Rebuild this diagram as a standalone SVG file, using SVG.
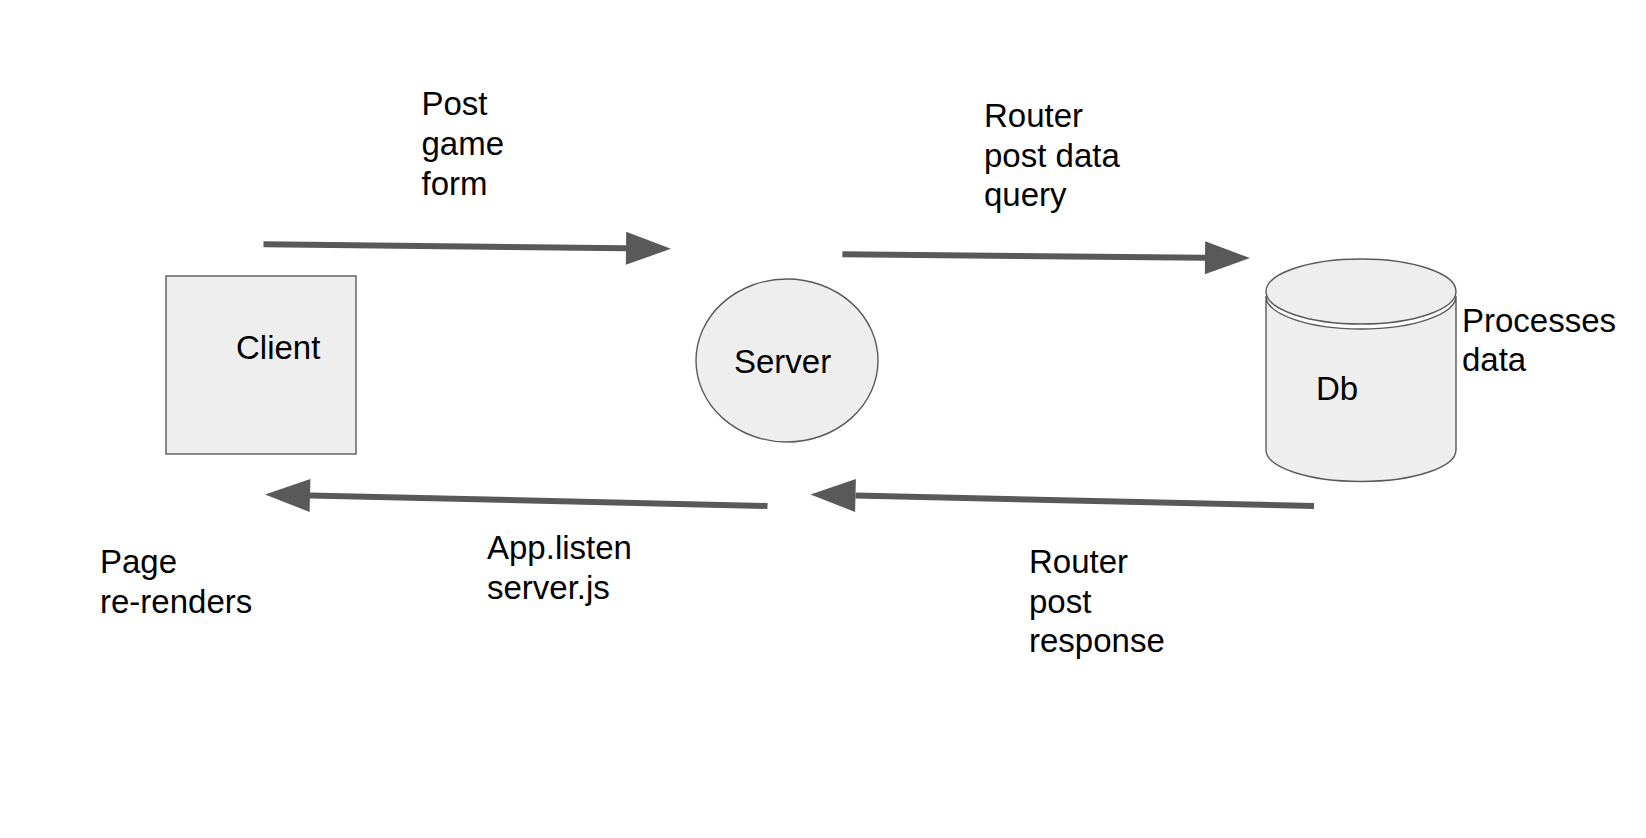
<svg xmlns="http://www.w3.org/2000/svg" width="1646" height="838" viewBox="0 0 1646 838">
<style>
.t{font-family:"Liberation Sans",Arial,sans-serif;font-size:33px;fill:#000}
.shape{fill:#eeeeee;stroke:#595959;stroke-width:1.4}
.conn{stroke:#595959;stroke-width:6;fill:none}
</style>
<defs>
<marker id="ah" markerUnits="userSpaceOnUse" markerWidth="46" markerHeight="34" refX="0" refY="16.5" orient="auto" overflow="visible">
<path d="M0,0 L45,16.5 L0,33 Z" fill="#595959"/>
</marker>
</defs>
<rect width="1646" height="838" fill="#ffffff"/>
<g id="client">
<rect class="shape" x="166" y="276" width="190" height="178"/>
<text class="t" x="236" y="359">Client</text>
</g>
<g id="server">
<ellipse class="shape" cx="787" cy="360.5" rx="91" ry="81.5"/>
<text class="t" x="734" y="373">Server</text>
</g>
<g id="db">
<path class="shape" d="M1266,296 V450 A95,31.5 0 0 0 1456,450 V296 A95,33 0 0 1 1266,296 Z"/>
<ellipse class="shape" cx="1361" cy="291.5" rx="95" ry="32.5"/>
<text class="t" x="1316" y="400">Db</text>
</g>
<g id="connectors">
<path class="conn" d="M263.5,244.3 L626,248.3" marker-end="url(#ah)"/>
<path class="conn" d="M842.4,254.3 L1205,257.7" marker-end="url(#ah)"/>
<path class="conn" d="M1314,506 L855.5,495.5" marker-end="url(#ah)"/>
<path class="conn" d="M767.5,506 L310,495.5" marker-end="url(#ah)"/>
</g>
<g id="labels">
<text class="t" x="421.5" y="115">Post</text>
<text class="t" x="421.5" y="155">game</text>
<text class="t" x="421.5" y="195">form</text>
<text class="t" x="984" y="126.5">Router</text>
<text class="t" x="984" y="166.5">post data</text>
<text class="t" x="984" y="206">query</text>
<text class="t" x="1462" y="331.5">Processes</text>
<text class="t" x="1462" y="370.5">data</text>
<text class="t" x="100" y="573">Page</text>
<text class="t" x="100" y="612.5">re-renders</text>
<text class="t" x="487" y="559">App.listen</text>
<text class="t" x="487" y="599">server.js</text>
<text class="t" x="1029" y="573">Router</text>
<text class="t" x="1029" y="612.5">post</text>
<text class="t" x="1029" y="652">response</text>
</g>
</svg>
